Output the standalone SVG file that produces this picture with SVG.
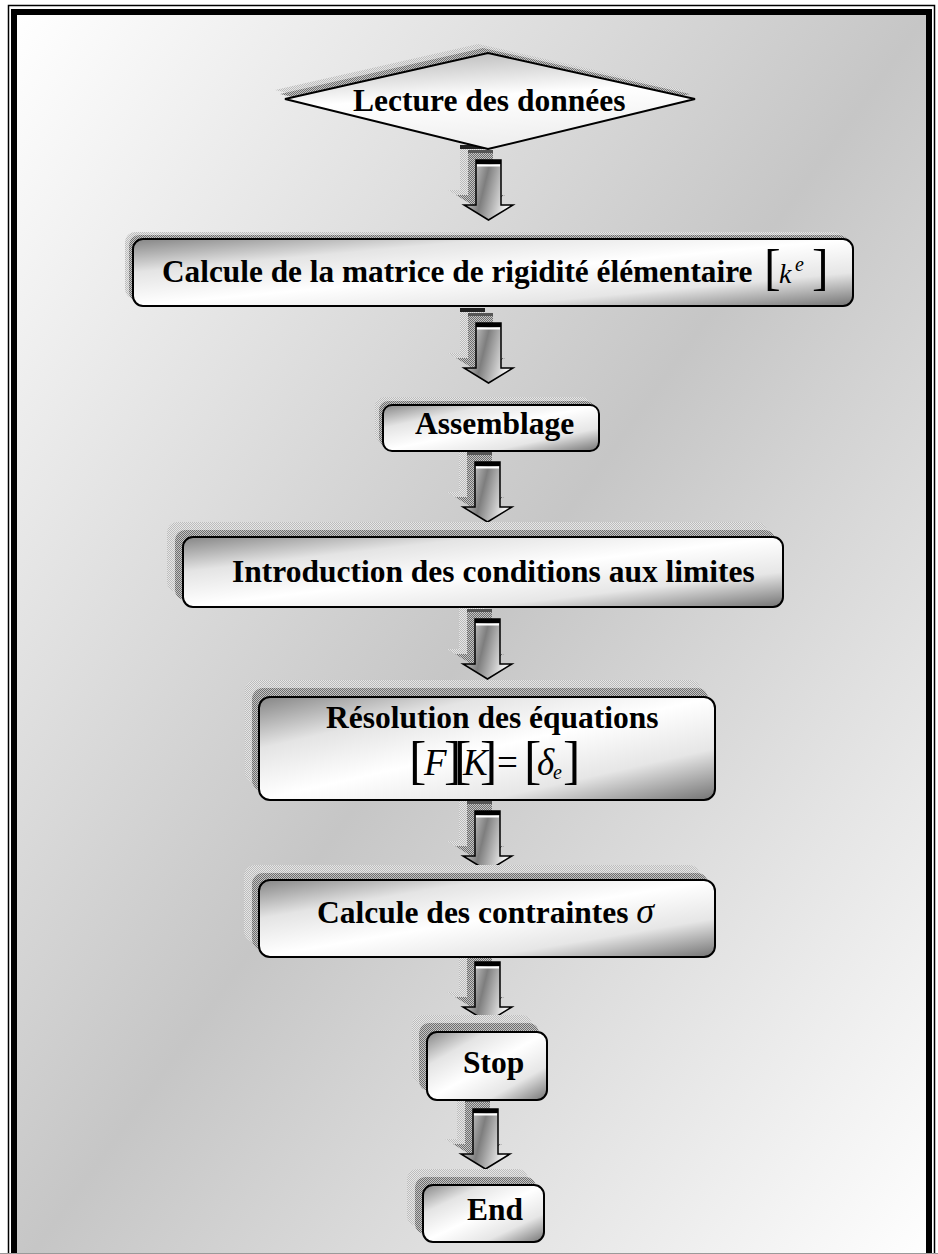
<svg xmlns="http://www.w3.org/2000/svg" xmlns:xlink="http://www.w3.org/1999/xlink" width="938" height="1254" viewBox="0 0 938 1254">
<defs>
<linearGradient id="bg" x1="0" y1="0" x2="1" y2="1"><stop offset="0" stop-color="#ffffff"/><stop offset="0.5" stop-color="#c6c6c6"/><stop offset="1" stop-color="#ffffff"/></linearGradient>
<linearGradient id="boxg" x1="0" y1="0" x2="1" y2="1"><stop offset="0" stop-color="#858585"/><stop offset="0.25" stop-color="#e4e4e4"/><stop offset="0.5" stop-color="#ffffff"/><stop offset="0.75" stop-color="#e6e6e6"/><stop offset="1" stop-color="#737373"/></linearGradient>
<linearGradient id="diag" x1="0.35" y1="0" x2="0.6" y2="1"><stop offset="0" stop-color="#bdbdbd"/><stop offset="0.45" stop-color="#ffffff"/><stop offset="1" stop-color="#ececec"/></linearGradient>
<linearGradient id="arrg" x1="0" y1="0" x2="1" y2="0.3"><stop offset="0" stop-color="#f4f4f4"/><stop offset="0.5" stop-color="#7e7e7e"/><stop offset="1" stop-color="#f2f2f2"/></linearGradient>
<pattern id="dd" width="2" height="2" patternUnits="userSpaceOnUse"><rect width="2" height="2" fill="#c4c4c4"/><rect width="1" height="1" fill="#6e6e6e"/><rect x="1" y="1" width="1" height="1" fill="#6e6e6e"/></pattern>
<pattern id="dl" width="2" height="2" patternUnits="userSpaceOnUse"><rect width="2" height="2" fill="#e6e6e6"/><rect width="1" height="1" fill="#bcbcbc"/><rect x="1" y="1" width="1" height="1" fill="#bcbcbc"/></pattern>
<polygon id="ap" points="-12,15 13,15 13,60 25,60 0.5,75 -24,60 -12,60"/>
<style>
.sl{fill:url(#dl)}
.sd{fill:url(#dd)}
.box{fill:url(#boxg);stroke:#000;stroke-width:2}
.dia{fill:url(#diag);stroke:#000;stroke-width:2}
.t{font-family:"Liberation Serif","Times New Roman",serif;font-weight:bold;font-size:31.5px;fill:#000}
.m{font-family:"Liberation Serif","Times New Roman",serif;fill:#000}
.i{font-style:italic}
.arr{fill:url(#arrg);stroke:#000;stroke-width:1.5}
</style>
</defs>

<g id="frame">
<rect x="17" y="15" width="909" height="1260" fill="url(#bg)"/>
<rect x="8.5" y="5.5" width="926" height="1280" fill="none" stroke="#000" stroke-width="1.5"/>
<rect x="14" y="12" width="915" height="1270" fill="none" stroke="#000" stroke-width="6"/>
<line x1="0" y1="1253.5" x2="938" y2="1253.5" stroke="#9a9a9a" stroke-width="1"/>
</g>

<g id="connectors">
<g id="arrow1" transform="translate(488,145)">
<use xlink:href="#ap" x="-16" y="-15" class="sl"/>
<rect x="-28" y="0" width="25" height="4" fill="#222"/>
<use xlink:href="#ap" x="-8" y="-10" class="sd"/>
<rect x="-20" y="5" width="25" height="3" fill="#555"/>
<use xlink:href="#ap" class="arr"/>
<rect x="-12" y="15" width="25" height="4" fill="#000"/>
<rect x="-11" y="19.5" width="23" height="2" fill="#fff"/>
</g>
<g id="arrow2" transform="translate(488,308)">
<use xlink:href="#ap" x="-16" y="-15" class="sl"/>
<rect x="-28" y="0" width="25" height="4" fill="#222"/>
<use xlink:href="#ap" x="-8" y="-10" class="sd"/>
<rect x="-20" y="5" width="25" height="3" fill="#555"/>
<use xlink:href="#ap" class="arr"/>
<rect x="-12" y="15" width="25" height="4" fill="#000"/>
<rect x="-11" y="19.5" width="23" height="2" fill="#fff"/>
</g>
<g id="arrow3" transform="translate(487,447)">
<use xlink:href="#ap" x="-16" y="-15" class="sl"/>
<rect x="-28" y="0" width="25" height="4" fill="#222"/>
<use xlink:href="#ap" x="-8" y="-10" class="sd"/>
<rect x="-20" y="5" width="25" height="3" fill="#555"/>
<use xlink:href="#ap" class="arr"/>
<rect x="-12" y="15" width="25" height="4" fill="#000"/>
<rect x="-11" y="19.5" width="23" height="2" fill="#fff"/>
</g>
<g id="arrow4" transform="translate(487,604)">
<use xlink:href="#ap" x="-16" y="-15" class="sl"/>
<rect x="-28" y="0" width="25" height="4" fill="#222"/>
<use xlink:href="#ap" x="-8" y="-10" class="sd"/>
<rect x="-20" y="5" width="25" height="3" fill="#555"/>
<use xlink:href="#ap" class="arr"/>
<rect x="-12" y="15" width="25" height="4" fill="#000"/>
<rect x="-11" y="19.5" width="23" height="2" fill="#fff"/>
</g>
<g id="arrow5" transform="translate(487,796)">
<use xlink:href="#ap" x="-16" y="-15" class="sl"/>
<rect x="-28" y="0" width="25" height="4" fill="#222"/>
<use xlink:href="#ap" x="-8" y="-10" class="sd"/>
<rect x="-20" y="5" width="25" height="3" fill="#555"/>
<use xlink:href="#ap" class="arr"/>
<rect x="-12" y="15" width="25" height="4" fill="#000"/>
<rect x="-11" y="19.5" width="23" height="2" fill="#fff"/>
</g>
<g id="arrow6" transform="translate(487,947)">
<use xlink:href="#ap" x="-16" y="-15" class="sl"/>
<rect x="-28" y="0" width="25" height="4" fill="#222"/>
<use xlink:href="#ap" x="-8" y="-10" class="sd"/>
<rect x="-20" y="5" width="25" height="3" fill="#555"/>
<use xlink:href="#ap" class="arr"/>
<rect x="-12" y="15" width="25" height="4" fill="#000"/>
<rect x="-11" y="19.5" width="23" height="2" fill="#fff"/>
</g>
<g id="arrow7" transform="translate(485,1094)">
<use xlink:href="#ap" x="-16" y="-15" class="sl"/>
<rect x="-28" y="0" width="25" height="4" fill="#222"/>
<use xlink:href="#ap" x="-8" y="-10" class="sd"/>
<rect x="-20" y="5" width="25" height="3" fill="#555"/>
<use xlink:href="#ap" class="arr"/>
<rect x="-12" y="15" width="25" height="4" fill="#000"/>
<rect x="-11" y="19.5" width="23" height="2" fill="#fff"/>
</g>
</g>

<g id="start">
<polygon class="sl" points="275,90 478,44 685,90 478,140"/>
<polygon class="sd" points="280,94 483,48 690,94 483,144"/>
<polygon class="dia" points="285,99 488,53 695,99 488,149"/>
<text class="t" x="353" y="111">Lecture des données</text>
</g>

<g id="rigidite">
<rect class="sl" x="125" y="232" width="720" height="67" rx="10"/>
<rect class="sd" x="129" y="235" width="720" height="67" rx="10"/>
<rect class="box" x="133" y="239" width="720" height="67" rx="10"/>
<text class="t" x="162" y="282" style="font-size:31.3px">Calcule de la matrice de rigidité élémentaire</text>
<text class="m"><tspan x="764" y="284" font-size="50">[</tspan><tspan class="i" x="779" y="283" font-size="28">k</tspan><tspan class="i" x="795" y="271" font-size="20">e</tspan><tspan x="812" y="284" font-size="50">]</tspan></text>
</g>

<g id="assemblage">
<rect class="sl" x="375" y="397" width="216" height="46" rx="9"/>
<rect class="sd" x="379" y="401" width="216" height="46" rx="9"/>
<rect class="box" x="383" y="405" width="216" height="46" rx="9"/>
<text class="t" x="415" y="434">Assemblage</text>
</g>

<g id="conditions">
<rect class="sl" x="167" y="522" width="600" height="70" rx="10"/>
<rect class="sd" x="175" y="530" width="600" height="70" rx="10"/>
<rect class="box" x="183" y="537" width="600" height="70" rx="10"/>
<text class="t" x="232" y="582">Introduction des conditions aux limites</text>
</g>

<g id="resolution">
<rect class="sl" x="245" y="680" width="456" height="103" rx="11"/>
<rect class="sd" x="252" y="688" width="456" height="103" rx="11"/>
<rect class="box" x="259" y="697" width="456" height="103" rx="11"/>
<text class="t" x="326" y="728">Résolution des équations</text>
<text class="m"><tspan x="409" y="778" font-size="52">[</tspan><tspan class="i" x="424" y="775" font-size="37">F</tspan><tspan x="444" y="778" font-size="52">]</tspan><tspan x="454" y="778" font-size="52">[</tspan><tspan class="i" x="463" y="775" font-size="37">K</tspan><tspan x="480" y="778" font-size="52">]</tspan><tspan x="497" y="775" font-size="37">=</tspan><tspan x="524" y="778" font-size="52">[</tspan><tspan class="i" x="537" y="775" font-size="37">δ</tspan><tspan class="i" x="553" y="779" font-size="20">e</tspan><tspan x="563" y="778" font-size="52">]</tspan></text>
</g>

<g id="contraintes">
<rect class="sl" x="244" y="865" width="456" height="77" rx="11"/>
<rect class="sd" x="252" y="873" width="456" height="77" rx="11"/>
<rect class="box" x="259" y="880" width="456" height="77" rx="11"/>
<text class="t" x="317" y="923">Calcule des contraintes <tspan class="i" style="font-weight:normal;font-size:36px">σ</tspan></text>
</g>

<g id="stop">
<rect class="sl" x="412" y="1015" width="120" height="68" rx="10"/>
<rect class="sd" x="419" y="1023" width="120" height="68" rx="10"/>
<rect class="box" x="427" y="1032" width="120" height="68" rx="10"/>
<text class="t" x="463" y="1073">Stop</text>
</g>

<g id="end">
<rect class="sl" x="407" y="1169" width="121" height="57" rx="10"/>
<rect class="sd" x="415" y="1177" width="121" height="57" rx="10"/>
<rect class="box" x="423" y="1185" width="121" height="57" rx="10"/>
<text class="t" x="467" y="1220">End</text>
</g>
</svg>
